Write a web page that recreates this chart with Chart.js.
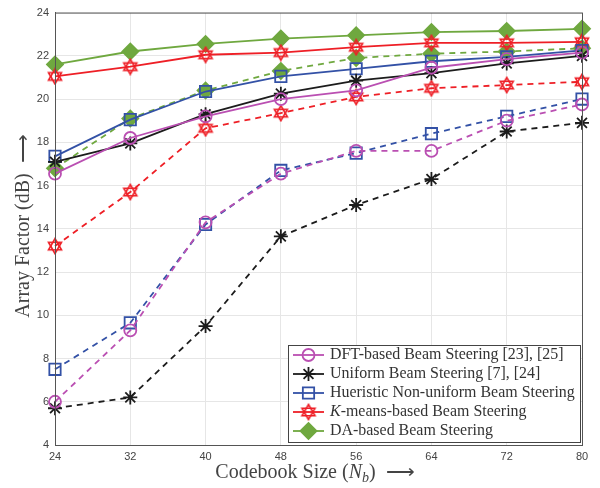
<!DOCTYPE html>
<html>
<head>
<meta charset="utf-8">
<script src="https://cdn.jsdelivr.net/npm/chart.js@4.4.1/dist/chart.umd.min.js"></script>
<style>
  html, body { margin: 0; padding: 0; background: #fff; }
  #wrap { width: 600px; height: 488px; }
</style>
</head>
<body>
<div id="wrap"><canvas id="chart"></canvas></div>
<script>
// codebook sizes (x axis)
var codebook = [24, 32, 40, 48, 56, 64, 72, 80];

// solid curves
var dftSolid      = [16.55, 18.2, 19.2, 20.0, 20.4, 21.45, 21.85, 22.15];
var uniformSolid  = [17.1, 17.95, 19.3, 20.25, 20.85, 21.2, 21.65, 22.0];
var heurSolid     = [17.35, 19.05, 20.35, 21.05, 21.4, 21.75, 21.95, 22.25];
var kmeansSolid   = [21.05, 21.5, 22.05, 22.15, 22.4, 22.6, 22.6, 22.65];
var daSolid       = [21.6, 22.2, 22.55, 22.8, 22.95, 23.1, 23.15, 23.25];

// dashed curves
var dftDashed     = [6.0, 9.3, 14.3, 16.55, 17.6, 17.6, 19.0, 19.75];
var uniformDashed = [5.7, 6.2, 9.5, 13.65, 15.1, 16.3, 18.5, 18.9];
var heurDashed    = [7.5, 9.65, 14.2, 16.7, 17.5, 18.4, 19.2, 20.0];
var kmeansDashed  = [13.2, 15.7, 18.65, 19.35, 20.1, 20.5, 20.65, 20.8];
var daDashed      = [16.8, 19.1, 20.4, 21.3, 21.9, 22.1, 22.2, 22.35];

var legendNames = [
    "DFT-based Beam Steering [23], [25]",
    "Uniform Beam Steering [7], [24]",
    "Hueristic Non-uniform Beam Steering",
    "K-means-based Beam Steering",
    "DA-based Beam Steering"
];

var yTicks = [4, 6, 8, 10, 12, 14, 16, 18, 20, 22, 24];

var cMag = "#BA4FB2", cBlk = "#1c1c1c", cBlu = "#3351A6", cRed = "#EE1F26", cGrn = "#6FA83F";
var serif = "'Liberation Serif', 'Times New Roman', serif";

// hexagram marker for the k-means curves
function hexagram(color) {
    var c = document.createElement("canvas");
    c.width = 18; c.height = 18;
    var g = c.getContext("2d");
    g.strokeStyle = color;
    g.lineWidth = 1.6;
    var r = 7.5, cx = 9, cy = 9;
    [ -Math.PI / 2, Math.PI / 2 ].forEach(function (a0) {
        g.beginPath();
        for (var i = 0; i < 3; i++) {
            var a = a0 + i * 2 * Math.PI / 3;
            var px = cx + r * Math.cos(a), py = cy + r * Math.sin(a);
            if (i === 0) g.moveTo(px, py); else g.lineTo(px, py);
        }
        g.closePath();
        g.stroke();
    });
    return c;
}
var hexRed = hexagram(cRed);

function pts(arr) {
    return arr.map(function (v, i) { return { x: codebook[i], y: v }; });
}

function series(name, values, color, style, dashed, radius, filled) {
    return {
        label: name,
        data: pts(values),
        borderColor: color,
        backgroundColor: filled ? color : "rgba(0,0,0,0)",
        borderWidth: 1.8,
        borderDash: dashed ? [6, 5] : [],
        pointStyle: style,
        pointRadius: radius,
        pointBorderColor: color,
        pointBackgroundColor: filled ? color : "rgba(0,0,0,0)",
        pointBorderWidth: 1.8,
        tension: 0,
        fill: false,
        clip: false,
        inLegend: !dashed
    };
}

var datasets = [
    series(legendNames[0], dftSolid, cMag, "circle", false, 6, false),
    series(legendNames[1], uniformSolid, cBlk, "star", false, 7, false),
    series(legendNames[2], heurSolid, cBlu, "rect", false, 8, false),
    series(legendNames[3], kmeansSolid, cRed, hexRed, false, 8, false),
    series(legendNames[4], daSolid, cGrn, "rectRot", false, 8, true),
    series(legendNames[0] + " dashed", dftDashed, cMag, "circle", true, 6, false),
    series(legendNames[1] + " dashed", uniformDashed, cBlk, "star", true, 7, false),
    series(legendNames[2] + " dashed", heurDashed, cBlu, "rect", true, 8, false),
    series(legendNames[3] + " dashed", kmeansDashed, cRed, hexRed, true, 8, false),
    series(legendNames[4] + " dashed", daDashed, cGrn, "rectRot", true, 8, true)
];

// font size so that a string fits a given width
function fitSize(ctx, text, style, width) {
    ctx.font = style + "20px " + serif;
    return 20 * width / ctx.measureText(text).width;
}

// draws frame, axis titles and the inset legend
var decor = {
    id: "decor",
    afterDraw: function (chart) {
        var ctx = chart.ctx, a = chart.chartArea;
        ctx.save();
        ctx.strokeStyle = "#555";
        ctx.lineWidth = 1;
        ctx.strokeRect(a.left + 0.5, a.top + 0.5, a.right - a.left, a.bottom - a.top);

        // axis titles
        ctx.fillStyle = "#444";
        ctx.textBaseline = "alphabetic";
        var fs = 20, sub = 14;
        var xt1 = "Codebook Size (", xt2 = "N", xt3 = "b", xt4 = ")  \u27F6";
        ctx.font = fs + "px " + serif;
        var w1 = ctx.measureText(xt1).width;
        var w4 = ctx.measureText(xt4).width;
        ctx.font = "italic " + fs + "px " + serif;
        var w2 = ctx.measureText(xt2).width;
        ctx.font = "italic " + sub + "px " + serif;
        var w3 = ctx.measureText(xt3).width;
        var total = w1 + w2 + w3 + w4;
        var x0 = 315 - total / 2, yb = 478;
        ctx.textAlign = "left";
        ctx.font = fs + "px " + serif;
        ctx.fillText(xt1, x0, yb);
        ctx.font = "italic " + fs + "px " + serif;
        ctx.fillText(xt2, x0 + w1, yb);
        ctx.font = "italic " + sub + "px " + serif;
        ctx.fillText(xt3, x0 + w1 + w2, yb + 4);
        ctx.font = fs + "px " + serif;
        ctx.fillText(xt4, x0 + w1 + w2 + w3, yb);

        ctx.save();
        ctx.translate(29, 226);
        ctx.rotate(-Math.PI / 2);
        ctx.textAlign = "center";
        ctx.font = fs + "px " + serif;
        ctx.fillText("Array Factor (dB)  \u27F6", 0, 0);
        ctx.restore();

        // legend box
        var bx = 288, by = 345, bw = 292, bh = 97;
        ctx.fillStyle = "#fff";
        ctx.fillRect(bx, by, bw, bh);
        ctx.strokeStyle = "#444";
        ctx.lineWidth = 1;
        ctx.strokeRect(bx + 0.5, by + 0.5, bw, bh);
        var rowY = [355, 374, 393, 412, 431];
        var lf = Math.min(16, fitSize(ctx, legendNames[2], "", 245));
        var k = 0;
        chart.data.datasets.forEach(function (ds) {
            if (!ds.inLegend) return;
            var y = rowY[k];
            ctx.strokeStyle = ds.borderColor;
            ctx.fillStyle = ds.pointBackgroundColor;
            ctx.lineWidth = 1.8;
            ctx.setLineDash([]);
            ctx.beginPath();
            ctx.moveTo(293, y);
            ctx.lineTo(324, y);
            ctx.stroke();
            Chart.helpers.drawPoint(ctx, {
                pointStyle: ds.pointStyle,
                radius: ds.pointRadius,
                borderWidth: 1.8,
                rotation: 0
            }, 308.5, y);
            ctx.fillStyle = "#333";
            ctx.textAlign = "left";
            ctx.textBaseline = "middle";
            var name = legendNames[k];
            if (name.indexOf("K-means") === 0) {
                ctx.font = "italic " + lf + "px " + serif;
                ctx.fillText("K", 330, y);
                var wk = ctx.measureText("K").width;
                ctx.font = lf + "px " + serif;
                ctx.fillText(name.substring(1), 330 + wk, y);
            } else {
                ctx.font = lf + "px " + serif;
                ctx.fillText(name, 330, y);
            }
            k++;
        });
        ctx.restore();
    }
};

new Chart(document.getElementById("chart"), {
    type: "line",
    data: { datasets: datasets },
    options: {
        responsive: true,
        maintainAspectRatio: false,
        animation: false,
        layout: { padding: { top: 11, right: 18, left: 0, bottom: 0 } },
        plugins: {
            legend: { display: false },
            tooltip: { enabled: false }
        },
        scales: {
            x: {
                type: "linear",
                min: 24, max: 80,
                ticks: {
                    stepSize: 8,
                    color: "#444",
                    font: { family: "'Liberation Sans', Arial, sans-serif", size: 11 },
                    padding: 5
                },
                grid: { color: "#e6e6e6", tickLength: 0 },
                border: { color: "#555" },
                afterFit: function (s) { s.height = 43; }
            },
            y: {
                type: "linear",
                min: 4, max: 24,
                afterBuildTicks: function (s) {
                    s.ticks = yTicks.map(function (v) { return { value: v }; });
                },
                ticks: {
                    color: "#444",
                    font: { family: "'Liberation Sans', Arial, sans-serif", size: 11 },
                    padding: 6
                },
                grid: { color: "#e6e6e6", tickLength: 0 },
                border: { color: "#555" },
                afterFit: function (s) { s.width = 55; }
            }
        }
    },
    plugins: [decor]
});
</script>
</body>
</html>
